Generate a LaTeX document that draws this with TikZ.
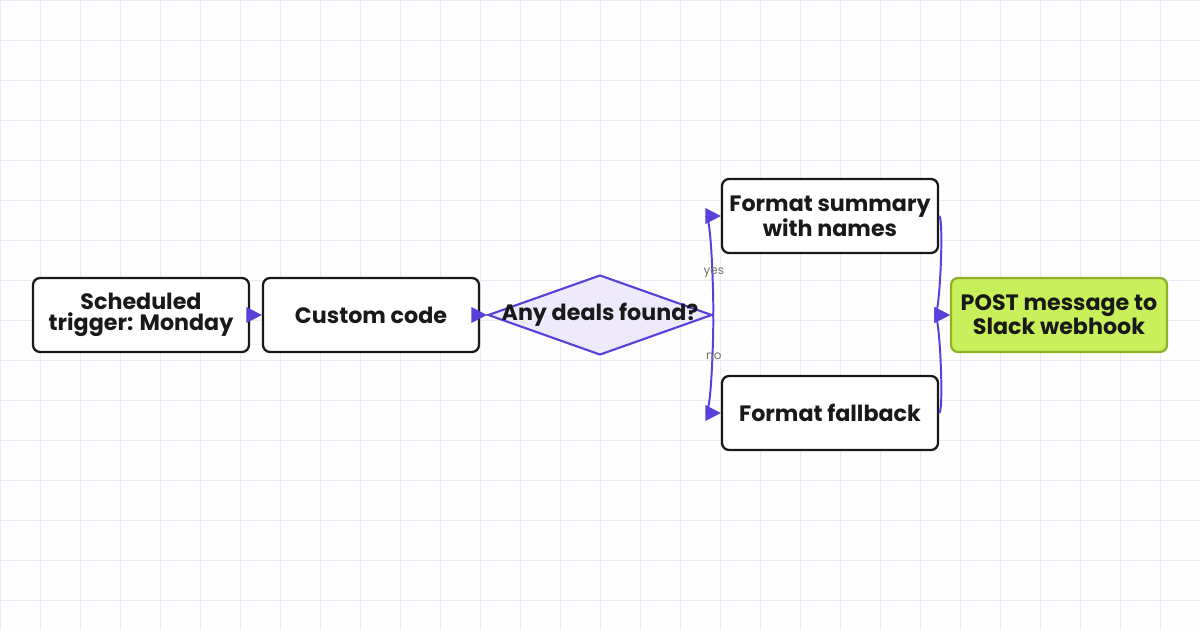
\documentclass[tikz,border=0pt]{standalone}
\usepackage{fontspec}
\setmainfont{Poppins}
\usetikzlibrary{shapes.geometric,arrows.meta,positioning}
\definecolor{flow}{HTML}{5B3FD9}
\definecolor{gridc}{HTML}{ECEAF6}
\definecolor{diafill}{HTML}{EEEAFB}
\definecolor{postfill}{HTML}{C8F05A}
\definecolor{postdraw}{HTML}{8FB02A}
\tikzset{
  box/.style={draw=black!90,line width=1.6pt,rounded corners=5pt,fill=white,
    minimum width=5.4cm,minimum height=1.85cm,align=center,inner sep=1pt,
    font=\fontsize{15.8}{14.5}\selectfont\bfseries,text=black!90},
  decide/.style={diamond,draw=flow,line width=1.5pt,fill=diafill,aspect=2.8,
    minimum width=5.6cm,minimum height=2cm,inner sep=0pt,
    label={[font=\fontsize{15.8}{14.5}\selectfont\bfseries,text=black!90]center:#1}},
  link/.style={draw=flow,line width=1.4pt,-{Triangle[length=11pt,width=11pt]}},
  tag/.style={font=\fontsize{8.5}{9}\selectfont,text=black!55}
}
\begin{document}
\begin{tikzpicture}
\fill[white!97!gridc] (0,0) rectangle (30,15.75);
\useasboundingbox (0,0) rectangle (30,15.75);
\foreach \x in {0,1,...,30}
\draw[gridc,line width=0.5pt] (\x,0) -- (\x,15.75);
\foreach \y in {0,1,...,15}
\draw[gridc,line width=0.5pt] (0,15.75-\y) -- (30,15.75-\y);
% nodes
\node[box] (trigger) at (3.525,7.875) {Scheduled\\trigger: Monday};
\node[box] (code) at (9.275,7.875) {Custom code};
\node[decide={Any deals found?}] (deals) at (15,7.875) {};
\node[box] (summary) at (20.75,10.35) {Format summary\\with names};
\node[box] (fallback) at (20.75,5.425) {Format fallback};
\node[box,draw=postdraw,fill=postfill] (post) at (26.475,7.875) {POST message to\\Slack webhook};
% connectors
\draw[link] (trigger) -- (code);
\draw[link] (code) -- (deals);
\draw[link] (deals.east) .. controls (17.85,7.875) and (17.8,10.35) .. (summary.west)
  node[tag,pos=0.45] {yes};
\draw[link] (deals.east) .. controls (17.85,7.875) and (17.8,5.425) .. (fallback.west)
  node[tag,pos=0.45] {no};
\draw[link] (summary.east) .. controls (23.6,10.35) and (23.5,7.875) .. (post.west);
\draw[link] (fallback.east) .. controls (23.6,5.425) and (23.5,7.875) .. (post.west);
\end{tikzpicture}
\end{document}
